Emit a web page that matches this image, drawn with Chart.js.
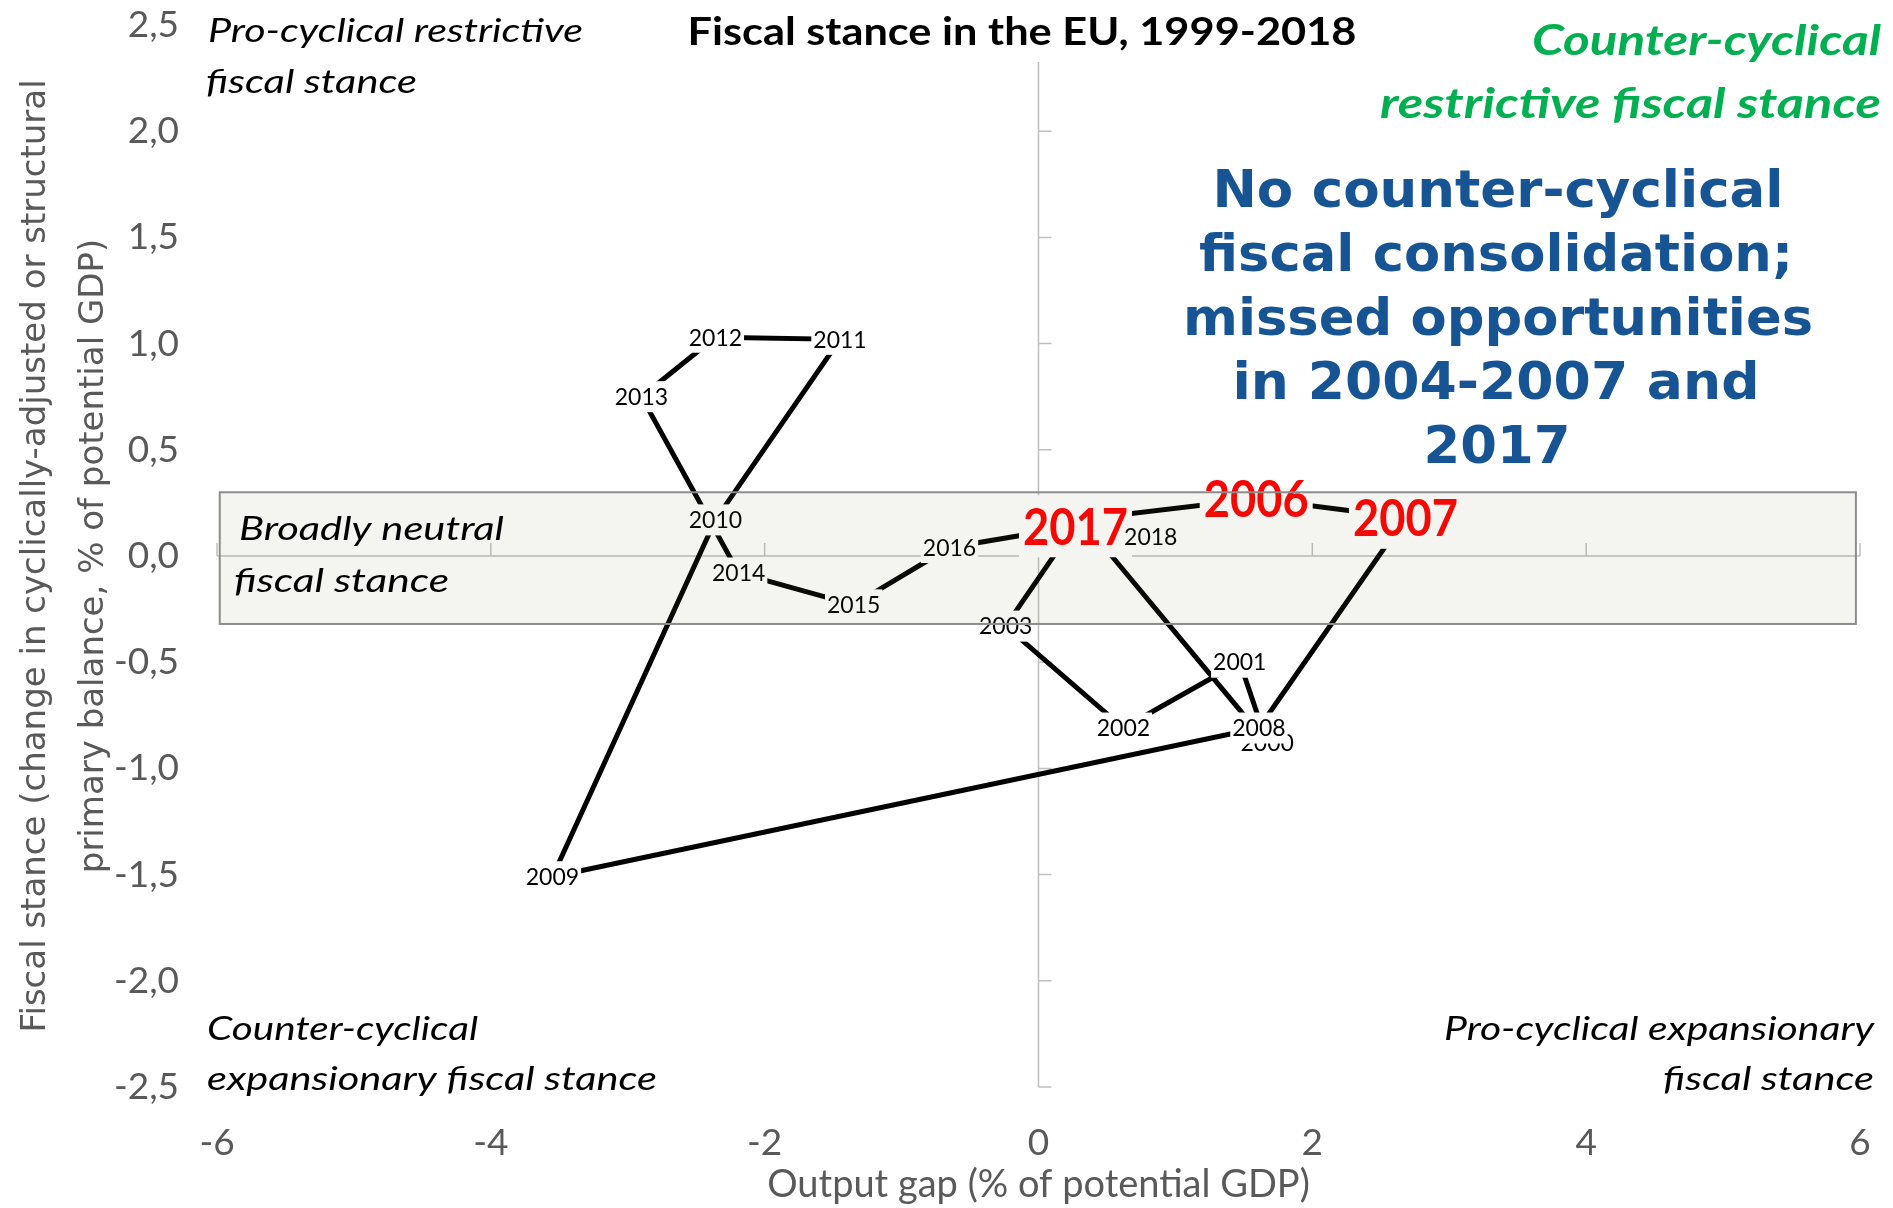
<!DOCTYPE html>
<html>
<head>
<meta charset="utf-8">
<script src="https://cdn.jsdelivr.net/npm/chart.js@4.4.1/dist/chart.umd.min.js"></script>
<style>
  html, body { margin: 0; padding: 0; background: #ffffff; }
  #wrap { width: 1893px; height: 1208px; }
</style>
</head>
<body>
<div id="wrap"><canvas id="chart" width="1893" height="1208"></canvas></div>
<script>
// ---------------- DATA ----------------
const years = [1999, 2000, 2001, 2002, 2003, 2004, 2005, 2006, 2007, 2008,
               2009, 2010, 2011, 2012, 2013, 2014, 2015, 2016, 2017, 2018];
const outputGap = [0.38, 1.67, 1.47, 0.62, -0.24, 0.25, 0.29, 1.59, 2.68, 1.61,
                   -3.55, -2.36, -1.45, -2.36, -2.90, -2.19, -1.35, -0.65, 0.27, 0.82];
const fiscalStance = [0.12, -0.88, -0.50, -0.81, -0.33, 0.13, 0.17, 0.27, 0.18, -0.81,
                      -1.51, 0.17, 1.02, 1.03, 0.75, -0.08, -0.23, 0.04, 0.14, 0.09];
const highlightYears = [2006, 2007, 2017];
const hiddenLabelYears = [1999, 2004, 2005];
const xTickValues = [-6, -4, -2, 0, 2, 4, 6];
const yTickValues = [-2.5, -2, -1.5, -1, -0.5, 0, 0.5, 1, 1.5, 2, 2.5];
const neutralBand = { xMin: -5.98, xMax: 5.97, yMin: -0.32, yMax: 0.30 };

const chartTitle = 'Fiscal stance in the EU, 1999-2018';
const xTitle = 'Output gap (% of potential GDP)';
const yTitle = ['Fiscal stance (change in cyclically-adjusted or structural',
                'primary balance, % of potential GDP)'];

// ---------------- TEXT ANNOTATIONS (layout) ----------------
const italicBlack = { style: 'italic', weight: 'normal', size: 32, family: 'Lato', color: '#000000' };
const greenText = { style: 'italic', weight: 'bold', size: 42, family: 'Lato', color: '#00B050' };
const blueText = { style: 'normal', weight: 'bold', size: 52, family: '"DejaVu Sans"', color: '#175494' };
const annotations = [
  { ...italicBlack, text: 'Pro-cyclical restrictive', x: 208, y: 42, align: 'left', width: 375 },
  { ...italicBlack, text: 'fiscal stance', x: 206, y: 93, align: 'left', width: 211 },
  { ...italicBlack, text: 'Broadly neutral', x: 239, y: 540, align: 'left', width: 265 },
  { ...italicBlack, text: 'fiscal stance', x: 234, y: 592, align: 'left', width: 215 },
  { ...italicBlack, text: 'Counter-cyclical', x: 207, y: 1040, align: 'left', width: 271 },
  { ...italicBlack, text: 'expansionary fiscal stance', x: 207, y: 1090, align: 'left', width: 450 },
  { ...italicBlack, text: 'Pro-cyclical expansionary', x: 1874, y: 1040, align: 'right', width: 430 },
  { ...italicBlack, text: 'fiscal stance', x: 1874, y: 1090, align: 'right', width: 211 },
  { ...greenText, text: 'Counter-cyclical', x: 1881, y: 55, align: 'right', width: 349 },
  { ...greenText, text: 'restrictive fiscal stance', x: 1881, y: 118, align: 'right', width: 501 },
  { ...blueText, text: 'No counter-cyclical', x: 1498, y: 207, align: 'center', width: 571 },
  { ...blueText, text: 'fiscal consolidation;', x: 1496, y: 271, align: 'center', width: 594 },
  { ...blueText, text: 'missed opportunities', x: 1498, y: 335, align: 'center', width: 630 },
  { ...blueText, text: 'in 2004-2007 and', x: 1496, y: 399, align: 'center', width: 527 },
  { ...blueText, text: '2017', x: 1497, y: 463, align: 'center', width: 147 }
];
const titleText = { style: 'normal', weight: 'bold', size: 39, family: 'Lato', color: '#000000',
                    text: chartTitle, x: 1022, y: 45, align: 'center', width: 669 };

function drawFitText(ctx, t) {
  ctx.save();
  ctx.font = `${t.style} ${t.weight} ${t.size}px ${t.family}`;
  const w = ctx.measureText(t.text).width;
  const sx = t.width ? t.width / w : 1;
  ctx.translate(t.x, t.y);
  ctx.scale(sx, 1);
  ctx.textAlign = t.align;
  ctx.textBaseline = 'alphabetic';
  ctx.fillStyle = t.color;
  ctx.fillText(t.text, 0, 0);
  ctx.restore();
}

const fiscalPlugin = {
  id: 'fiscalDecor',
  beforeDatasetsDraw(chart) {
    const { ctx, scales: { x, y } } = chart;
    const x0 = x.getPixelForValue(0), y0 = y.getPixelForValue(0);
    ctx.save();
    ctx.strokeStyle = '#BFBFBF';
    ctx.lineWidth = 1.5;
    ctx.beginPath();
    ctx.moveTo(x0, y.getPixelForValue(y.max));
    ctx.lineTo(x0, y.getPixelForValue(y.min));
    ctx.moveTo(x.getPixelForValue(x.min), y0);
    ctx.lineTo(x.getPixelForValue(x.max), y0);
    yTickValues.forEach(v => {
      if (v === 0) return;
      const py = y.getPixelForValue(v);
      ctx.moveTo(x0, py); ctx.lineTo(x0 + 13, py);
    });
    xTickValues.forEach(v => {
      if (v === 0) return;
      const px = x.getPixelForValue(v);
      ctx.moveTo(px, y0); ctx.lineTo(px, y0 - 13);
    });
    ctx.stroke();
    ctx.restore();
  },
  afterDatasetsDraw(chart) {
    const { ctx, scales: { x, y } } = chart;
    const meta = chart.getDatasetMeta(0);
    ctx.save();
    // year labels (white boxes hide the line beneath, as in the original)
    years.forEach((yr, i) => {
      if (hiddenLabelYears.includes(yr)) return;
      const pt = meta.data[i];
      const hi = highlightYears.includes(yr);
      const size = hi ? 52 : 23;
      const targetW = hi ? 105 : null;
      ctx.font = `${hi ? 'bold ' : ''}${size}px Lato`;
      const text = String(yr);
      const nat = ctx.measureText(text).width;
      const sx = targetW ? targetW / nat : 1;
      const w = nat * sx;
      const bw = w + (hi ? 8 : 4), bh = hi ? 62 : 31;
      ctx.fillStyle = '#ffffff';
      ctx.fillRect(pt.x - bw / 2, pt.y - bh / 2, bw, bh);
      ctx.save();
      ctx.translate(pt.x, pt.y + size * 0.36);
      ctx.scale(sx, 1);
      ctx.fillStyle = hi ? '#FF0000' : '#000000';
      ctx.textAlign = 'center';
      ctx.textBaseline = 'alphabetic';
      ctx.fillText(text, 0, 0);
      ctx.restore();
    });
    // neutral band (translucent overlay)
    const bx1 = x.getPixelForValue(neutralBand.xMin), bx2 = x.getPixelForValue(neutralBand.xMax);
    const by1 = y.getPixelForValue(neutralBand.yMax), by2 = y.getPixelForValue(neutralBand.yMin);
    ctx.fillStyle = 'rgba(120,120,70,0.08)';
    ctx.fillRect(bx1, by1, bx2 - bx1, by2 - by1);
    ctx.strokeStyle = '#8C8C8C';
    ctx.lineWidth = 2;
    ctx.strokeRect(bx1, by1, bx2 - bx1, by2 - by1);
    ctx.restore();
    // annotations
    annotations.forEach(t => drawFitText(ctx, t));
    // title with white background
    ctx.save();
    ctx.fillStyle = '#ffffff';
    ctx.fillRect(titleText.x - titleText.width / 2 - 8, 4, titleText.width + 16, 58);
    ctx.restore();
    drawFitText(ctx, titleText);
  }
};

const ctx = document.getElementById('chart').getContext('2d');
new Chart(ctx, {
  type: 'scatter',
  data: {
    datasets: [{
      label: 'Fiscal stance',
      data: years.map((yr, i) => ({ x: outputGap[i], y: fiscalStance[i] })),
      showLine: true,
      borderColor: '#000000',
      backgroundColor: '#000000',
      borderWidth: 5,
      pointRadius: 0,
      pointHoverRadius: 0,
      tension: 0
    }]
  },
  options: {
    responsive: false,
    animation: false,
    devicePixelRatio: 1,
    layout: { padding: { top: 25, right: 33, left: 0, bottom: 0 } },
    plugins: { legend: { display: false }, tooltip: { enabled: false }, title: { display: false } },
    scales: {
      x: {
        type: 'linear',
        min: -6, max: 6,
        afterBuildTicks: s => { s.ticks = xTickValues.map(v => ({ value: v })); },
        afterFit: s => { s.height = 121; s.paddingLeft = 0; s.paddingRight = 0; },
        grid: { display: false, drawTicks: false },
        border: { display: false },
        ticks: {
          font: { family: 'Lato', size: 37 },
          color: '#595959',
          padding: 34,
          callback: v => String(v)
        },
        title: {
          display: true, text: xTitle,
          font: { family: 'Lato', size: 38 },
          color: '#595959',
          padding: { top: 0, bottom: 0 }
        }
      },
      y: {
        type: 'linear',
        min: -2.5, max: 2.5,
        afterBuildTicks: s => { s.ticks = yTickValues.map(v => ({ value: v })); },
        afterFit: s => { s.width = 217; s.paddingTop = 0; s.paddingBottom = 0; },
        grid: { display: false, drawTicks: false },
        border: { display: false },
        ticks: {
          font: { family: 'Lato', size: 37 },
          color: '#595959',
          padding: 38,
          callback: v => v.toFixed(1).replace('.', ',')
        },
        title: {
          display: true, text: yTitle,
          font: { family: '"DejaVu Sans"', size: 34, lineHeight: 1.7 },
          color: '#595959',
          padding: { top: 7, bottom: 0 }
        }
      }
    }
  },
  plugins: [fiscalPlugin]
});
</script>
</body>
</html>
